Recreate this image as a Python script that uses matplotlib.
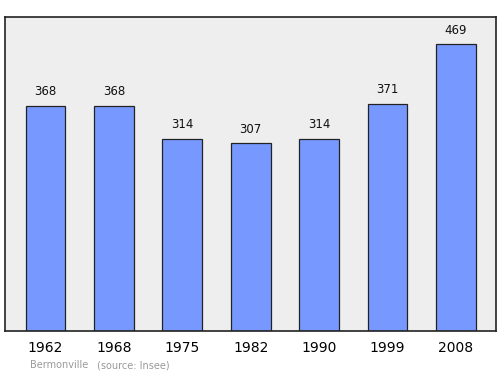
import matplotlib.pyplot as plt

years = ['1962', '1968', '1975', '1982', '1990', '1999', '2008']
population = [368, 368, 314, 307, 314, 371, 469]

fig = plt.figure(figsize=(5, 3.74), dpi=100)
ax = fig.add_axes([5 / 500, 1 - 331 / 374, 491 / 500, 314 / 374])
ax.set_facecolor('#eeeeee')

x = range(len(years))
ax.bar(x, population, width=0.58, color='#7799ff', edgecolor='#222222', linewidth=0.9, zorder=2)
for i, v in zip(x, population):
    ax.text(i, v + 13, str(v), ha='center', va='bottom', fontsize=8.5, color='#111111')

ax.set_xlim(-0.59, 6.585)
ax.set_ylim(0, 514)
ax.set_xticks(list(x))
ax.set_xticklabels(years, fontsize=10)
ax.tick_params(axis='x', length=0, pad=7)
ax.set_yticks([])
for s in ax.spines.values():
    s.set_linewidth(1.2)
    s.set_color('#222222')

fig.text(30 / 500, 1 - 365 / 374, 'Bermonville', fontsize=7, color='#999999', va='center')
fig.text(97 / 500, 1 - 365 / 374, '(source: Insee)', fontsize=7, color='#999999', va='center')

fig.savefig('out.png', dpi=100)
